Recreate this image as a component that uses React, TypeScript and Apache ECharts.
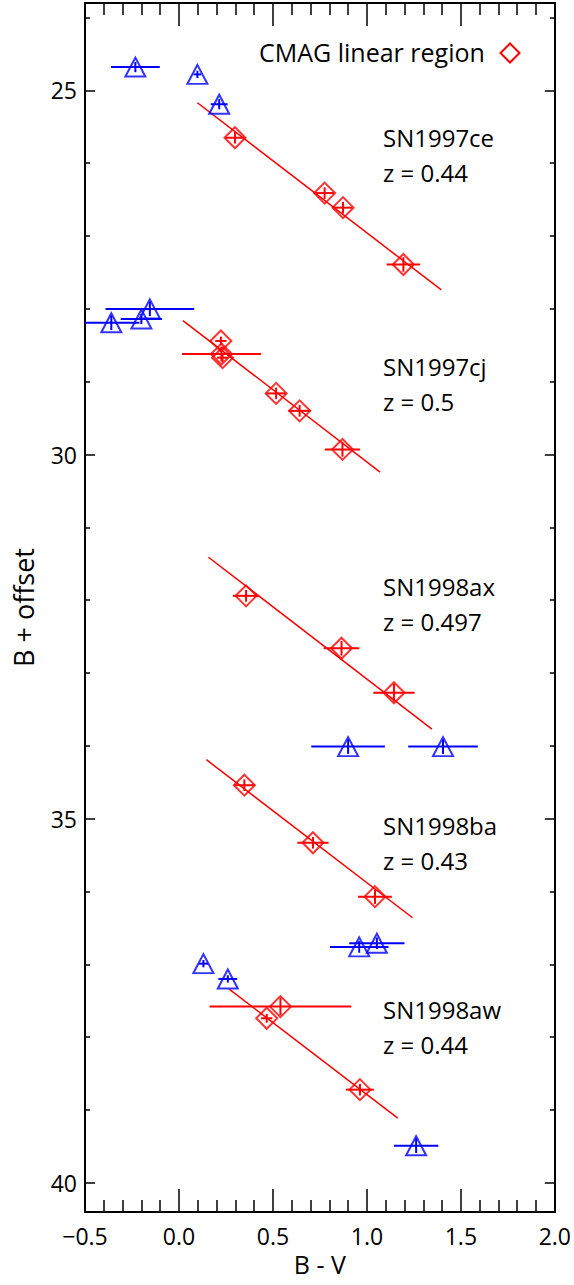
import React, { useEffect, useRef } from "react";
import * as echarts from "echarts";

// Axis ranges and tick values
const xMin = -0.5;
const xMax = 2.0;
const yMin = 23.8;
const yMax = 40.4;
const yMajorTicks = [25, 30, 35, 40];
const yMinorTicks = [24, 26, 27, 28, 29, 31, 32, 33, 34, 36, 37, 38, 39];

// Supernova annotations
const snNames = ["SN1997ce", "SN1997cj", "SN1998ax", "SN1998ba", "SN1998aw"];
const snRedshifts = ["0.44", "0.5", "0.497", "0.43", "0.44"];

// Linear fits (CMAG linear region) endpoints [B-V, B+offset]
const fitStart = [
  [0.098, 25.17],
  [0.021, 28.16],
  [0.157, 31.41],
  [0.146, 34.19],
  [0.267, 37.34],
];
const fitEnd = [
  [1.396, 27.74],
  [1.07, 30.24],
  [1.346, 33.77],
  [1.243, 36.36],
  [1.164, 39.11],
];

// Red diamonds: CMAG linear region points
const redX = [0.298, 0.775, 0.873, 1.194, 0.223, 0.226, 0.232, 0.517, 0.642, 0.87, 0.357, 0.865, 1.144, 0.348, 0.713, 1.043, 0.54, 0.467, 0.963];
const redY = [25.65, 26.41, 26.61, 27.39, 28.44, 28.62, 28.67, 29.16, 29.4, 29.93, 31.94, 32.66, 33.27, 34.54, 35.33, 36.07, 37.58, 37.74, 38.72];
const redXErr = [0.05, 0.05, 0.05, 0.089, 0.03, 0.21, 0.03, 0.05, 0.06, 0.094, 0.07, 0.095, 0.11, 0.053, 0.083, 0.09, 0.377, 0.03, 0.074];
const redYErr = [0.08, 0.08, 0.08, 0.1, 0.06, 0.1, 0.06, 0.08, 0.08, 0.1, 0.08, 0.1, 0.12, 0.08, 0.08, 0.1, 0.12, 0.06, 0.08];

// Blue triangles: points outside the linear region
const blueX = [-0.232, 0.098, 0.214, -0.36, -0.2, -0.155, 0.9, 1.405, 0.959, 1.053, 0.13, 0.26, 1.262];
const blueY = [24.68, 24.78, 25.19, 28.19, 28.14, 28.0, 34.01, 34.01, 36.76, 36.71, 36.99, 37.2, 39.49];
const blueXErr = [0.13, 0.02, 0.045, 0.15, 0.11, 0.236, 0.196, 0.185, 0.156, 0.147, 0.025, 0.05, 0.118];
const blueYErr = [0.07, 0.05, 0.07, 0.1, 0.07, 0.1, 0.1, 0.1, 0.08, 0.08, 0.05, 0.05, 0.1];

// Annotation text positions (pixels)
const snTextLeft = 383;
const snTextTop = [137, 366, 586, 825, 1009];
const snLineGap = 35;

const RED = "#ff0000";
const BLUE = "#0000ff";
const FONT = "Open Sans";

function errorSeries(name: string, xs: number[], ys: number[], xe: number[], ye: number[], color: string) {
  return {
    name,
    type: "custom",
    clip: true,
    z: 3,
    data: xs.map((x, i) => [x, ys[i], xe[i], ye[i]]),
    encode: { x: 0, y: 1 },
    renderItem: (params: any, api: any) => {
      const x = api.value(0);
      const y = api.value(1);
      const ex = api.value(2);
      const ey = api.value(3);
      const a = api.coord([x - ex, y]);
      const b = api.coord([x + ex, y]);
      const c = api.coord([x, y - ey]);
      const d = api.coord([x, y + ey]);
      const style = { stroke: color, lineWidth: 2 };
      return {
        type: "group",
        children: [
          { type: "line", shape: { x1: a[0], y1: a[1], x2: b[0], y2: b[1] }, style },
          { type: "line", shape: { x1: c[0], y1: c[1], x2: d[0], y2: d[1] }, style },
        ],
      };
    },
  };
}

export default function App() {
  const ref = useRef<HTMLDivElement>(null);
  useEffect(() => {
    document.body.style.margin = "0";
    if (!ref.current) return;
    const chart = echarts.init(ref.current, null, { renderer: "svg" });

    const axisLineStyle = { color: "#000", width: 2 };
    const commonX = {
      type: "value",
      min: xMin,
      max: xMax,
      interval: 0.5,
      splitLine: { show: false },
      axisLine: { show: true, lineStyle: axisLineStyle },
      axisTick: { show: true, inside: true, length: 23, lineStyle: { color: "#000", width: 1.5 } },
      minorTick: { show: true, splitNumber: 5, length: 12, lineStyle: { color: "#000", width: 1.5 } },
      minorSplitLine: { show: false },
    };
    const yBase = {
      type: "value",
      min: yMin,
      max: yMax,
      inverse: true,
      splitLine: { show: false },
      axisLine: { show: true, onZero: false, lineStyle: axisLineStyle },
    };

    const graphics: any[] = [];
    snNames.forEach((n, i) => {
      graphics.push({
        type: "text",
        x: snTextLeft,
        y: snTextTop[i],
        style: { text: n, fontSize: 24, fontFamily: FONT, fill: "#000", verticalAlign: "middle", align: "left" },
      });
      graphics.push({
        type: "text",
        x: snTextLeft,
        y: snTextTop[i] + snLineGap,
        style: { text: "z = " + snRedshifts[i], fontSize: 24, fontFamily: FONT, fill: "#000", verticalAlign: "middle", align: "left" },
      });
    });
    graphics.push({
      type: "text",
      x: 259,
      y: 52,
      style: { text: "CMAG linear region", fontSize: 25, fontFamily: FONT, fill: "#000", verticalAlign: "middle", align: "left" },
    });
    graphics.push({
      type: "polygon",
      shape: { points: [[510, 43.5], [519.5, 53], [510, 62.5], [500.5, 53]] },
      style: { fill: "none", stroke: RED, lineWidth: 2 },
    });

    const option: any = {
      animation: false,
      grid: { left: 85, right: 19, top: 3, bottom: 73, containLabel: false },
      xAxis: [
        {
          ...commonX,
          position: "bottom",
          name: "B - V",
          nameLocation: "middle",
          nameGap: 39,
          nameTextStyle: { fontSize: 25, fontFamily: FONT, color: "#000" },
          axisLabel: {
            show: true,
            margin: 12,
            fontSize: 23,
            fontFamily: FONT,
            color: "#000",
            showMinLabel: true,
            showMaxLabel: true,
            formatter: (v: number) => v.toFixed(1).replace("-", "\u2212"),
          },
        },
        { ...commonX, position: "top", axisLabel: { show: false } },
      ],
      yAxis: [
        {
          ...yBase,
          position: "left",
          name: "B + offset",
          nameLocation: "middle",
          nameRotate: 90,
          nameGap: 48,
          nameTextStyle: { fontSize: 27, fontFamily: FONT, color: "#000" },
          axisTick: { show: true, inside: true, length: 10, customValues: yMajorTicks, lineStyle: { color: "#000", width: 1.5 } },
          axisLabel: { show: true, margin: 8, fontSize: 23, fontFamily: FONT, color: "#000", customValues: yMajorTicks },
        },
        {
          ...yBase,
          position: "left",
          axisTick: { show: true, inside: true, length: 5, customValues: yMinorTicks, lineStyle: { color: "#000", width: 1.5 } },
          axisLabel: { show: false },
        },
        {
          ...yBase,
          position: "right",
          axisTick: { show: true, inside: true, length: 10, customValues: yMajorTicks, lineStyle: { color: "#000", width: 1.5 } },
          axisLabel: { show: false },
        },
        {
          ...yBase,
          position: "right",
          axisTick: { show: true, inside: true, length: 5, customValues: yMinorTicks, lineStyle: { color: "#000", width: 1.5 } },
          axisLabel: { show: false },
        },
      ],
      graphic: graphics,
      series: [
        ...fitStart.map((s, i) => ({
          name: "fit " + snNames[i],
          type: "line",
          xAxisIndex: 0,
          yAxisIndex: 0,
          data: [s, fitEnd[i]],
          symbol: "none",
          lineStyle: { color: RED, width: 1.5 },
          z: 2,
        })),
        { ...errorSeries("red errors", redX, redY, redXErr, redYErr, RED), xAxisIndex: 0, yAxisIndex: 0 },
        { ...errorSeries("blue errors", blueX, blueY, blueXErr, blueYErr, BLUE), xAxisIndex: 0, yAxisIndex: 0 },
        {
          name: "CMAG linear region",
          type: "scatter",
          xAxisIndex: 0,
          yAxisIndex: 0,
          data: redX.map((x, i) => [x, redY[i]]),
          symbol: "diamond",
          symbolSize: [21, 21],
          itemStyle: { color: "rgba(0,0,0,0)", borderColor: RED, borderWidth: 2 },
          z: 4,
        },
        {
          name: "outside",
          type: "scatter",
          xAxisIndex: 0,
          yAxisIndex: 0,
          data: blueX.map((x, i) => [x, blueY[i]]),
          symbol: "triangle",
          symbolSize: [20, 19],
          itemStyle: { color: "rgba(0,0,0,0)", borderColor: BLUE, borderWidth: 2 },
          z: 4,
        },
      ],
    };
    chart.setOption(option);
    return () => chart.dispose();
  }, []);
  return <div ref={ref} style={{ width: 574, height: 1285 }} />;
}
